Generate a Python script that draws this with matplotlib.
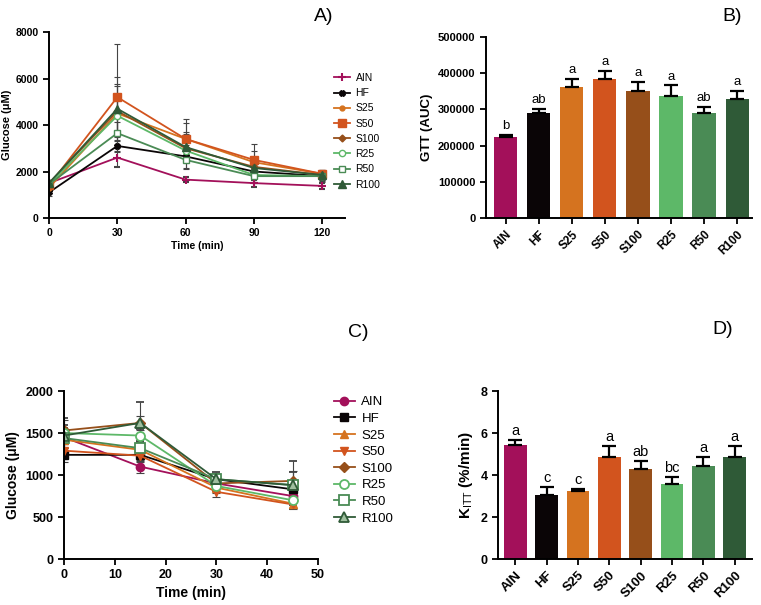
import matplotlib.pyplot as plt

plt.rcParams["font.family"] = ["Liberation Sans", "DejaVu Sans"]
plt.rcParams["mathtext.fontset"] = "custom"
plt.rcParams["mathtext.rm"] = "Liberation Sans"
plt.rcParams["mathtext.bf"] = "Liberation Sans:bold"

# %% data
groups = ["AIN", "HF", "S25", "S50", "S100", "R25", "R50", "R100"]
colors = ["#A3105A", "#0A0506", "#D5731F", "#D2541E", "#964F1A", "#5DB868", "#4A8B55", "#2F5A37"]

gtt_time = [0, 30, 60, 90, 120]
gtt_mean = {
    "AIN": [1500, 2600, 1650, 1500, 1380],
    "HF": [1100, 3100, 2650, 2000, 1800],
    "S25": [1300, 4500, 3400, 2400, 1900],
    "S50": [1400, 5200, 3400, 2500, 1900],
    "S100": [1500, 4600, 3000, 2200, 1850],
    "R25": [1450, 4400, 2900, 1850, 1800],
    "R50": [1450, 3650, 2500, 1800, 1800],
    "R100": [1500, 4700, 3050, 2150, 1850],
}
gtt_err = {
    "AIN": [100, 400, 100, 150, 120],
    "HF": [150, 250, 500, 300, 200],
    "S25": [150, 1200, 700, 500, 150],
    "S50": [150, 2300, 850, 700, 150],
    "S100": [150, 1450, 600, 400, 150],
    "R25": [150, 900, 400, 300, 150],
    "R50": [150, 500, 400, 300, 250],
    "R100": [150, 1050, 650, 400, 200],
}

itt_time = [0, 15, 30, 45]
itt_mean = {
    "AIN": [1450, 1100, 900, 750],
    "HF": [1240, 1240, 950, 830],
    "S25": [1420, 1300, 850, 660],
    "S50": [1290, 1230, 800, 650],
    "S100": [1530, 1620, 900, 930],
    "R25": [1500, 1470, 870, 700],
    "R50": [1440, 1320, 950, 880],
    "R100": [1470, 1620, 950, 880],
}
itt_err = {
    "AIN": [80, 80, 50, 60],
    "HF": [80, 80, 60, 100],
    "S25": [100, 80, 60, 50],
    "S50": [80, 60, 60, 50],
    "S100": [120, 80, 60, 120],
    "R25": [100, 80, 60, 60],
    "R50": [120, 80, 60, 150],
    "R100": [210, 250, 80, 290],
}

auc_mean = [223000, 291000, 362000, 384000, 351000, 337000, 291000, 329000]
auc_err = [7000, 10000, 22000, 22000, 25000, 29000, 16000, 21000]
auc_letters = ["b", "ab", "a", "a", "a", "a", "ab", "a"]

kitt_mean = [5.43, 3.05, 3.25, 4.84, 4.29, 3.56, 4.44, 4.84]
kitt_err = [0.24, 0.39, 0.07, 0.56, 0.36, 0.33, 0.43, 0.56]
kitt_letters = ["a", "c", "c", "a", "ab", "bc", "a", "a"]

gtt_markers = {
    "AIN": dict(marker="+", ms=6, mew=1.5),
    "HF": dict(marker="X", ms=4),
    "S25": dict(marker="o", ms=3.5),
    "S50": dict(marker="s", ms=6),
    "S100": dict(marker="D", ms=3.5),
    "R25": dict(marker="o", ms=4.5, mfc="white"),
    "R50": dict(marker="s", ms=5, mfc="white"),
    "R100": dict(marker="^", ms=5.5),
}
itt_markers = {
    "AIN": dict(marker="o", ms=6),
    "HF": dict(marker="s", ms=6),
    "S25": dict(marker="^", ms=6),
    "S50": dict(marker="v", ms=6),
    "S100": dict(marker="D", ms=5),
    "R25": dict(marker="o", ms=6.5, mfc="white", mew=1.3),
    "R50": dict(marker="s", ms=6.5, mfc="white", mew=1.3),
    "R100": dict(marker="^", ms=7, mfc="#9fbf9f", mew=1.3),
}


def style_axes(ax, xsize, ysize):
    for side in ["top", "right"]:
        ax.spines[side].set_visible(False)
    for side in ["left", "bottom"]:
        ax.spines[side].set_linewidth(1.4)
    ax.tick_params(width=1.3, length=4)
    ax.tick_params(axis="x", labelsize=xsize)
    ax.tick_params(axis="y", labelsize=ysize)
    for lab in ax.get_xticklabels() + ax.get_yticklabels():
        lab.set_fontweight("bold")


fig = plt.figure(figsize=(7.61, 6.05), dpi=100)

# %% A) glucose tolerance
axA = fig.add_axes([0.0644, 0.6397, 0.389, 0.3073])
handles = []
for i, g in enumerate(groups):
    c = axA.errorbar(gtt_time, gtt_mean[g], yerr=gtt_err[g], color=colors[i],
                     ecolor="#444444", elinewidth=0.8, capsize=2.5, capthick=0.8,
                     lw=1.3, label=g, **gtt_markers[g])
    handles.append(c[0])
axA.set_xlim(0, 130)
axA.set_ylim(0, 8000)
axA.set_xticks([0, 30, 60, 90, 120])
axA.set_yticks([0, 2000, 4000, 6000, 8000])
axA.set_xlabel("Time (min)", fontsize=7.5, fontweight="bold", labelpad=2)
axA.set_ylabel("Glucose (μM)", fontsize=8, fontweight="bold")
axA.yaxis.set_label_coords(-0.125, 0.5)
style_axes(axA, 7.5, 7.5)
axA.legend(handles, groups, loc="upper left", bbox_to_anchor=(0.93, 0.83),
           frameon=False, fontsize=7.5, handlelength=1.6, labelspacing=0.5,
           handletextpad=0.5)
fig.text(0.425, 0.972, "A)", fontsize=14, ha="center", va="center")

# %% B) AUC
axB = fig.add_axes([0.6386, 0.6397, 0.3495, 0.2992])
xb = range(len(groups))
axB.bar(xb, auc_mean, width=0.7, color=colors)
axB.errorbar(xb, auc_mean, yerr=[[0] * 8, auc_err], fmt="none", ecolor="black",
             elinewidth=1.6, capsize=5, capthick=1.6)
for i in xb:
    axB.text(i, auc_mean[i] + auc_err[i] + 8000, auc_letters[i], ha="center",
             va="bottom", fontsize=9.5)
axB.set_xlim(-0.6, 7.45)
axB.set_ylim(0, 500000)
axB.set_yticks([0, 100000, 200000, 300000, 400000, 500000])
axB.set_xticks(list(xb))
axB.set_xticklabels(groups, rotation=45, ha="right", rotation_mode="anchor")
axB.set_ylabel("GTT (AUC)", fontsize=9.5, fontweight="bold", labelpad=4)
style_axes(axB, 8.5, 8)
fig.text(0.962, 0.972, "B)", fontsize=14, ha="center", va="center")

# %% C) insulin tolerance
axC = fig.add_axes([0.0841, 0.076, 0.3338, 0.2777])
handles = []
for i, g in enumerate(groups):
    c = axC.errorbar(itt_time, itt_mean[g], yerr=itt_err[g], color=colors[i],
                     ecolor="#444444", elinewidth=0.8, capsize=3, capthick=0.8,
                     lw=1.3, label=g, **itt_markers[g])
    handles.append(c[0])
axC.set_xlim(0, 50)
axC.set_ylim(0, 2000)
axC.set_xticks([0, 10, 20, 30, 40, 50])
axC.set_yticks([0, 500, 1000, 1500, 2000])
axC.set_xlabel("Time (min)", fontsize=10, fontweight="bold", labelpad=3)
axC.set_ylabel("Glucose (μM)", fontsize=10, fontweight="bold", labelpad=4)
style_axes(axC, 9, 9)
axC.legend(handles, groups, loc="upper left", bbox_to_anchor=(1.015, 1.04),
           frameon=False, fontsize=9.5, handlelength=1.6, labelspacing=0.33,
           handletextpad=0.5)
fig.text(0.471, 0.451, "C)", fontsize=14, ha="center", va="center")

# %% D) KITT
axD = fig.add_axes([0.6544, 0.076, 0.3338, 0.2777])
xd = range(len(groups))
axD.bar(xd, kitt_mean, width=0.72, color=colors)
axD.errorbar(xd, kitt_mean, yerr=[[0] * 8, kitt_err], fmt="none", ecolor="black",
             elinewidth=1.6, capsize=5, capthick=1.6)
for i in xd:
    axD.text(i, kitt_mean[i] + kitt_err[i] + 0.1, kitt_letters[i], ha="center",
             va="bottom", fontsize=10.5)
axD.set_xlim(-0.55, 7.55)
axD.set_ylim(0, 8)
axD.set_yticks([0, 2, 4, 6, 8])
axD.set_xticks(list(xd))
axD.set_xticklabels(groups, rotation=45, ha="right", rotation_mode="anchor")
axD.set_ylabel(r"$\mathbf{K}_\mathrm{ITT}$ (%/min)", fontsize=11, fontweight="bold", labelpad=4)
style_axes(axD, 9.5, 9)
fig.text(0.95, 0.455, "D)", fontsize=14, ha="center", va="center")

fig.savefig("out.png", dpi=100)
